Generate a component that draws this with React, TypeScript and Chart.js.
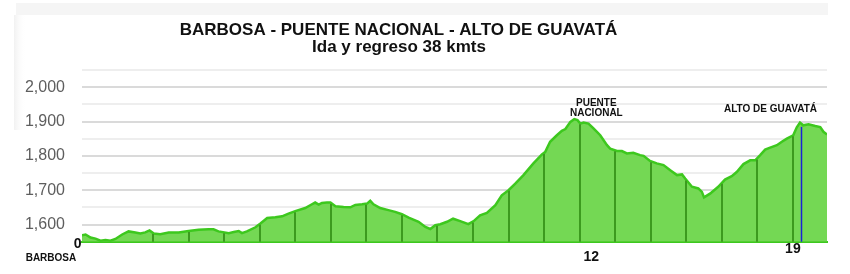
import React, { useEffect, useRef } from 'react';
import { Chart, registerables } from 'chart.js';

Chart.register(...registerables);

const TITLE = 'BARBOSA - PUENTE NACIONAL - ALTO DE GUAVATÁ';
const SUBTITLE = 'Ida y regreso 38 kmts';

// distance along the profile (drop-line units) and elevation (m)
const distance = [
  0.0, 0.1, 0.24, 0.38, 0.52, 0.66, 0.8, 0.94, 1.13, 1.31, 1.5, 1.64, 1.78, 1.9, 2.02, 2.2, 2.44, 2.72,
  3.0, 3.28, 3.56, 3.7, 3.84, 4.13, 4.27, 4.41, 4.5, 4.64, 4.88, 5.02, 5.21, 5.44, 5.63, 5.81, 6.0,
  6.28, 6.47, 6.56, 6.66, 6.75, 6.89, 6.99, 7.13, 7.36, 7.55, 7.69, 7.88, 8.02, 8.11, 8.2, 8.39, 8.62,
  8.81, 9.0, 9.19, 9.47, 9.66, 9.8, 9.94, 10.08, 10.27, 10.44, 10.64, 10.87, 11.02, 11.2, 11.39, 11.63,
  11.81, 12.0, 12.19, 12.42, 12.7, 12.94, 13.03, 13.17, 13.36, 13.5, 13.6, 13.74, 13.85, 13.94, 14.02,
  14.11, 14.25, 14.39, 14.58, 14.77, 14.86, 15.05, 15.19, 15.33, 15.51, 15.7, 15.8, 15.98, 16.17, 16.36,
  16.55, 16.74, 16.88, 16.97, 17.16, 17.34, 17.44, 17.5, 17.67, 17.9, 18.09, 18.28, 18.42, 18.61, 18.8,
  18.94, 19.08, 19.22, 19.36, 19.55, 19.69, 19.83, 20.01, 20.11, 20.2, 20.29, 20.44, 20.63, 20.77, 20.86,
  20.96,
];
const elevation = [
  1569, 1571, 1562, 1559, 1553, 1555, 1553, 1558, 1571, 1580, 1577, 1574, 1577, 1583, 1574, 1572, 1577, 1577,
  1581, 1585, 1586, 1586, 1580, 1575, 1578, 1581, 1575, 1580, 1592, 1603, 1619, 1621, 1624, 1632, 1639,
  1648, 1659, 1664, 1658, 1663, 1664, 1664, 1653, 1651, 1650, 1657, 1659, 1661, 1669, 1659, 1648, 1642,
  1637, 1630, 1620, 1608, 1593, 1587, 1598, 1601, 1608, 1617, 1610, 1601, 1610, 1627, 1634, 1656,
  1685, 1700, 1719, 1744, 1778, 1804, 1811, 1841, 1860, 1873, 1878, 1899, 1907, 1904, 1894,
  1897, 1894, 1880, 1860, 1831, 1821, 1814, 1814, 1807, 1809, 1802, 1800, 1785, 1778, 1773,
  1758, 1744, 1746, 1734, 1710, 1705, 1695, 1679, 1690, 1710, 1731, 1741, 1753, 1776, 1787,
  1787, 1802, 1818, 1824, 1831, 1841, 1850, 1860, 1883, 1897, 1889, 1892, 1887, 1884, 1870,
  1862,
];

// y grid lines (labels only on the hundreds)
const yGridValues = [1550, 1600, 1650, 1700, 1750, 1800, 1850, 1900, 1950, 2000, 2050];

const dropLineAt = [2, 3, 4, 5, 6, 7, 8, 9, 10, 11, 12, 13, 14, 15, 16, 17, 18, 19, 20];
const blueMarkerAt = 20.24;

const xMarkLabels = ['0', '12', '19'];
const xMarkAt = [-0.12, 14.33, 20.0];

const placeLabels = [['PUENTE', 'NACIONAL'], ['ALTO DE GUAVATÁ']];
const placeAtX = [14.47, 19.37];
const placeAtY = [1953, 1935];

const startName = 'BARBOSA';

const Y_MIN = 1550;
const Y_MAX = 2050;
const X_MAX = 20.96;

const FONT = '"Liberation Sans", Arial, Helvetica, sans-serif';

function curveYAt(meta: any, px: number): number {
  const pts = meta.data;
  for (let i = 0; i < pts.length - 1; i++) {
    const a = pts[i];
    const b = pts[i + 1];
    if (px >= a.x && px <= b.x) {
      const t = b.x === a.x ? 0 : (px - a.x) / (b.x - a.x);
      return a.y + (b.y - a.y) * t;
    }
  }
  return pts[pts.length - 1].y;
}

const decorPlugin = {
  id: 'decor',
  beforeDraw(chart: any) {
    const ctx = chart.ctx;
    ctx.save();
    ctx.fillStyle = '#ffffff';
    ctx.fillRect(0, 0, chart.width, chart.height);
    // faint scan band at the top
    ctx.fillStyle = '#f5f5f5';
    ctx.fillRect(16, 3, 812, 12);
    const g = ctx.createLinearGradient(14, 0, 26, 0);
    g.addColorStop(0, 'rgba(232,232,232,0.6)');
    g.addColorStop(1, 'rgba(255,255,255,0)');
    ctx.fillStyle = g;
    ctx.fillRect(14, 15, 12, 115);
    ctx.restore();
  },
  afterDatasetsDraw(chart: any) {
    const ctx = chart.ctx;
    const xs = chart.scales.x;
    const area = chart.chartArea;
    const meta = chart.getDatasetMeta(0);
    ctx.save();
    ctx.strokeStyle = '#3c9a1f';
    ctx.lineWidth = 2;
    dropLineAt.forEach((v) => {
      const px = Math.round(xs.getPixelForValue(v));
      const py = curveYAt(meta, px);
      ctx.beginPath();
      ctx.moveTo(px, area.bottom);
      ctx.lineTo(px, py + 1);
      ctx.stroke();
    });
    const bx = Math.round(xs.getPixelForValue(blueMarkerAt)) + 0.5;
    const by = curveYAt(meta, bx);
    ctx.strokeStyle = '#1a22d8';
    ctx.lineWidth = 1.5;
    ctx.beginPath();
    ctx.moveTo(bx, area.bottom);
    ctx.lineTo(bx, by + 3);
    ctx.stroke();
    ctx.restore();
  },
  afterDraw(chart: any) {
    const ctx = chart.ctx;
    const xs = chart.scales.x;
    const ys = chart.scales.y;
    const area = chart.chartArea;
    ctx.save();
    ctx.fillStyle = '#111111';
    ctx.textAlign = 'center';
    ctx.textBaseline = 'alphabetic';
    ctx.font = `bold 17px ${FONT}`;
    ctx.fillText(TITLE, 398.5, 34.5);
    ctx.fillText(SUBTITLE, 399, 52);

    // x markers
    ctx.textBaseline = 'middle';
    ctx.font = `bold 14px ${FONT}`;
    const offs = [2.8, 15, 7.8];
    xMarkLabels.forEach((t, i) => {
      ctx.fillText(t, xs.getPixelForValue(xMarkAt[i]), area.bottom + offs[i]);
    });
    ctx.font = `bold 10px ${FONT}`;
    ctx.textAlign = 'right';
    ctx.fillText(startName, xs.getPixelForValue(xMarkAt[0]) - 1.5, area.bottom + 16.5);

    // place names
    ctx.textAlign = 'center';
    placeLabels.forEach((lines, i) => {
      const px = xs.getPixelForValue(placeAtX[i]);
      const py = ys.getPixelForValue(placeAtY[i]);
      lines.forEach((l, j) => ctx.fillText(l, px, py + j * 10));
    });
    ctx.restore();
  },
};

export default function App() {
  const ref = useRef<HTMLCanvasElement | null>(null);
  useEffect(() => {
    document.body.style.margin = '0';
    const canvas = ref.current;
    if (!canvas) return;
    const chart = new Chart(canvas, {
      type: 'line',
      data: {
        datasets: [
          {
            data: distance.map((d, i) => ({ x: d, y: elevation[i] })),
            borderColor: '#3dc81e',
            borderWidth: 2.5,
            backgroundColor: '#74d854',
            fill: 'start',
            pointRadius: 0,
            tension: 0,
          },
        ],
      },
      options: {
        responsive: false,
        animation: false,
        layout: { padding: { top: 70, right: 23, bottom: 32.3, left: 0 } },
        plugins: {
          legend: { display: false },
          tooltip: { enabled: false },
          title: { display: false },
        },
        scales: {
          x: {
            type: 'linear',
            min: 0,
            max: X_MAX,
            grid: { display: false, drawTicks: false },
            ticks: { display: false },
            border: { display: true, color: '#3dc81e', width: 2 },
            afterFit: (s: any) => {
              s.height = 0;
            },
          },
          y: {
            min: Y_MIN,
            max: Y_MAX,
            afterBuildTicks: (s: any) => {
              s.ticks = yGridValues.map((v) => ({ value: v }));
            },
            ticks: {
              autoSkip: false,
              padding: 17,
              color: '#5e5e5e',
              font: { family: FONT, size: 16 },
              callback: (v: any) => (Number(v) % 100 === 0 ? Number(v).toLocaleString('en-US') : ''),
            },
            grid: {
              drawTicks: false,
              lineWidth: 2,
              color: (c: any) => (c.tick && c.tick.value % 100 === 0 ? '#dadada' : '#eeeeee'),
            },
            border: { display: false },
            afterFit: (s: any) => {
              s.width = 82;
            },
          },
        },
      },
      plugins: [decorPlugin],
    });
    return () => chart.destroy();
  }, []);
  return (
    <div style={{ position: 'absolute', left: 0, top: 0, width: 850, height: 274 }}>
      <canvas ref={ref} width={850} height={274} style={{ display: 'block', width: 850, height: 274 }} />
    </div>
  );
}
